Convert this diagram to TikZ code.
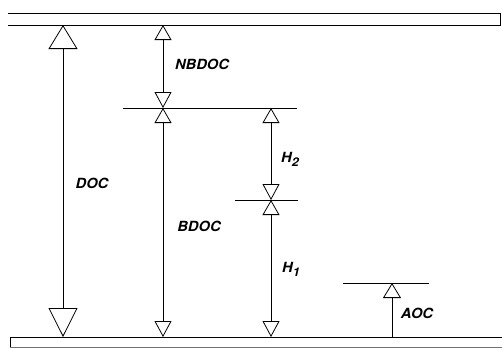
\documentclass[tikz,border=0pt]{standalone}
\usepackage{fontspec}
\newfontfamily\labfont{TeX Gyre Heros}
\usetikzlibrary{arrows.meta}
\tikzset{
  band/.style={line width=1pt, black},
  level/.style={line width=0.7pt, black},
  dim/.style={line width=0.6pt, black},
  bigdim/.style={dim, {Triangle[open,length=29pt,width=29pt,line width=0.8pt]}-{Triangle[open,length=24pt,width=29pt,line width=0.8pt]}},
  smalldim/.style={dim, {Triangle[open,length=16pt,width=17pt,line width=0.8pt]}-{Triangle[open,length=15pt,width=17pt,line width=0.8pt]}},
  updim/.style={dim, -{Triangle[open,length=15pt,width=18pt,line width=0.8pt]}},
  lab/.style={font=\labfont\bfseries\itshape\fontsize{14}{15}\selectfont, inner sep=0pt, xscale=1.05, transform shape}
}
\newcommand{\Hsub}[1]{H\raisebox{-0.55ex}{\fontsize{12}{13}\selectfont #1}}
\begin{document}
\begin{tikzpicture}[x=1pt,y=-1pt]
  \useasboundingbox (0,0) rectangle (502,348);
  % reference planes
  \coordinate (topL) at (8,13);
  \coordinate (topR) at (500,13);
  \coordinate (topbL) at (8,25);
  \coordinate (topbR) at (500,25);
  \coordinate (botL) at (10,337);
  \coordinate (botR) at (502,337);
  % upper band (open at the left end)
  \draw[band] (topL) -- (topR) -- (topbR) -- (topbL);
  % lower band
  \draw[band] (10,348) -- (botL) -- (botR);
  \draw[line width=0.6pt, black!55] (10,347) -- (502,347);
  % intermediate levels
  \coordinate (lvA) at (163,108);
  \coordinate (lvB) at (271,200);
  \coordinate (lvC) at (392,283);
  \draw[level] (123,108) -- (297,108);
  \draw[level] (235,200) -- (298,200);
  \draw[level] (343,283) -- (429,283);
  % dimension arrows
  \coordinate (docT) at (63,25);
  \coordinate (docB) at (63,337);
  \draw[bigdim] (docB) -- (docT);
  \coordinate (nbT) at (163,25);
  \draw[smalldim] (lvA) -- (nbT);
  \coordinate (bdB) at (163,337);
  \draw[smalldim] (bdB) -- (lvA);
  \coordinate (h2T) at (271,108);
  \draw[smalldim] (lvB) -- (h2T);
  \coordinate (h1B) at (271,337);
  \draw[smalldim] (h1B) -- (lvB);
  \coordinate (aocB) at (392,337);
  \draw[updim] (aocB) -- (lvC);
  % labels
  \node[lab] (nbdoc) at (202,64) {NBDOC};
  \node[lab] (doc) at (92,183) {DOC};
  \node[lab] (bdoc) at (199,226) {BDOC};
  \node[lab] (h2) at (290,159) {\Hsub{2}};
  \node[lab] (h1) at (291,269) {\Hsub{1}};
  \node[lab] (aoc) at (417,313) {AOC};
\end{tikzpicture}
\end{document}
